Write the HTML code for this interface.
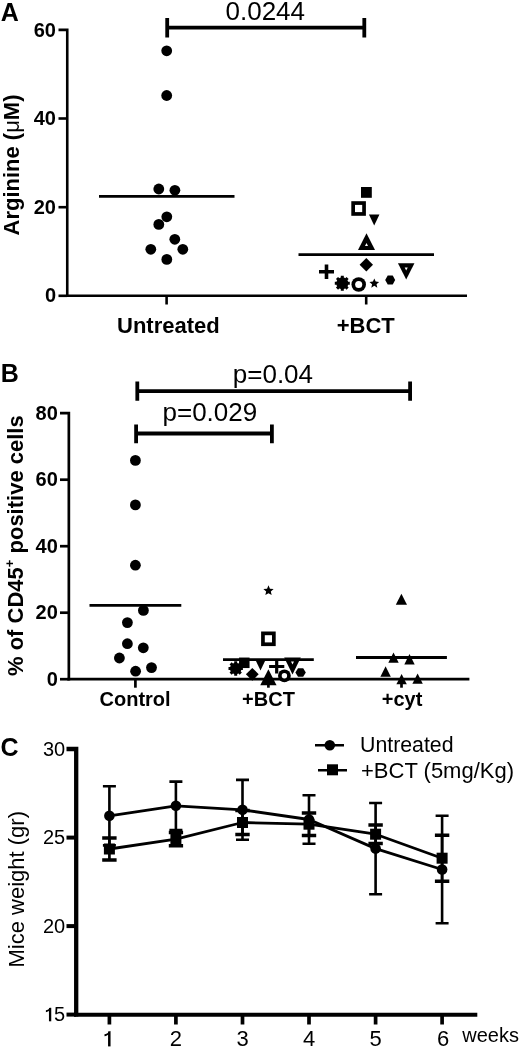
<!DOCTYPE html>
<html><head><meta charset="utf-8"><style>html,body{margin:0;padding:0;background:#fff;}svg{display:block;filter:grayscale(1);}</style></head>
<body><svg width="520" height="1048" viewBox="0 0 520 1048">
<rect width="520" height="1048" fill="#fff"/>
<text x="0.75" y="20.5" font-family="'Liberation Sans', sans-serif" font-weight="bold" font-size="25">A</text>
<path d="M58.5 29.9H67.25V297" fill="none" stroke="#000" stroke-width="2.6"/>
<path d="M58.5 118.5H67" stroke="#000" stroke-width="2.6"/>
<path d="M58.5 207.2H67" stroke="#000" stroke-width="2.6"/>
<path d="M58.5 295.8H67" stroke="#000" stroke-width="2.6"/>
<text x="56" y="36.5" text-anchor="end" font-family="'Liberation Sans', sans-serif" font-weight="bold" font-size="20">60</text>
<text x="56" y="125.1" text-anchor="end" font-family="'Liberation Sans', sans-serif" font-weight="bold" font-size="20">40</text>
<text x="56" y="213.8" text-anchor="end" font-family="'Liberation Sans', sans-serif" font-weight="bold" font-size="20">20</text>
<text x="56" y="302.4" text-anchor="end" font-family="'Liberation Sans', sans-serif" font-weight="bold" font-size="20">0</text>
<path d="M66 295.8H467" stroke="#000" stroke-width="2.6"/>
<path d="M166.6 295.8V304.5" stroke="#000" stroke-width="2.6"/>
<path d="M366.2 295.8V304.5" stroke="#000" stroke-width="2.6"/>
<text x="117" y="332.7" font-family="'Liberation Sans', sans-serif" font-weight="bold" font-size="22">Untreated</text>
<text x="336.7" y="332.6" font-family="'Liberation Sans', sans-serif" font-weight="bold" font-size="22">+BCT</text>
<text transform="translate(18.8,235.5) rotate(-90)" font-family="'Liberation Sans', sans-serif" font-weight="bold" font-size="22">Arginine (<tspan font-weight="normal">μ</tspan>M)</text>
<path d="M167.2 18V37.5M364.3 18V37.5M167.2 27.7H364.3" stroke="#000" stroke-width="3.8" fill="none"/>
<text x="225.5" y="19.5" font-family="'Liberation Sans', sans-serif" font-size="26">0.0244</text>
<path d="M99 196.4H234.5M298.5 254.6H434" stroke="#000" stroke-width="2.8"/>
<circle cx="166.7" cy="50.8" r="5.4"/>
<circle cx="166.7" cy="95.5" r="5.4"/>
<circle cx="158.8" cy="189" r="5.4"/>
<circle cx="174.9" cy="190.3" r="5.4"/>
<circle cx="166.8" cy="216.8" r="5.4"/>
<circle cx="158.8" cy="224.4" r="5.4"/>
<circle cx="174.8" cy="239.3" r="5.4"/>
<circle cx="150.8" cy="249.3" r="5.4"/>
<circle cx="182.8" cy="249.3" r="5.4"/>
<circle cx="166.8" cy="259.4" r="5.4"/>
<rect x="361.00" y="187.00" width="10.8" height="10.8"/>
<rect x="351.30" y="201.20" width="14.6" height="14.6"/><rect fill="#fff" x="355.00" y="204.90" width="7.20" height="7.20"/>
<path d="M368.95 214.5H379.45L374.2 225.50Z"/>
<path d="M366.5 233.2L375.00 250.00H358.00Z"/><path fill="#fff" d="M366.5 243.00L368.02 246.00H364.98Z"/>
<path d="M366.3 258.0L373.0 264.8L366.3 271.6L359.6 264.8Z"/>
<path d="M319.00 271.7H334.00M326.5 264.45V278.95" stroke="#000" stroke-width="3.6"/>
<circle cx="358.7" cy="284.5" r="7.25"/><circle fill="#fff" cx="358.7" cy="284.5" r="3.55"/>
<path d="M397.95 263.3H414.45L406.2 279.50Z"/><path fill="#fff" d="M404.67 267.50H407.73L406.2 270.50Z"/>
<path d="M385.20 280L387.70 275.50H392.70L395.20 280L392.70 284.50H387.70Z"/>
<path d="M374.30,278.40 L375.68,281.60 L379.15,281.92 L376.53,284.23 L377.30,287.63 L374.30,285.85 L371.30,287.63 L372.07,284.23 L369.45,281.92 L372.92,281.60Z"/>
<circle cx="342.3" cy="283.3" r="6.00"/><path d="M342.30 283.30L349.80 283.30M342.30 283.30L347.60 288.60M342.30 283.30L342.30 290.80M342.30 283.30L337.00 288.60M342.30 283.30L334.80 283.30M342.30 283.30L337.00 278.00M342.30 283.30L342.30 275.80M342.30 283.30L347.60 278.00" stroke="#000" stroke-width="3.0"/>
<text x="0.8" y="381.5" font-family="'Liberation Sans', sans-serif" font-weight="bold" font-size="25">B</text>
<path d="M60 413.2H68.85V680.5" fill="none" stroke="#000" stroke-width="2.7"/>
<path d="M60 679.2H68.5" stroke="#000" stroke-width="2.7"/>
<path d="M60 612.7H68.5" stroke="#000" stroke-width="2.7"/>
<path d="M60 546.2H68.5" stroke="#000" stroke-width="2.7"/>
<path d="M60 479.7H68.5" stroke="#000" stroke-width="2.7"/>
<text x="57.8" y="685.8" text-anchor="end" font-family="'Liberation Sans', sans-serif" font-weight="bold" font-size="20">0</text>
<text x="57.8" y="619.3" text-anchor="end" font-family="'Liberation Sans', sans-serif" font-weight="bold" font-size="20">20</text>
<text x="57.8" y="552.8" text-anchor="end" font-family="'Liberation Sans', sans-serif" font-weight="bold" font-size="20">40</text>
<text x="57.8" y="486.3" text-anchor="end" font-family="'Liberation Sans', sans-serif" font-weight="bold" font-size="20">60</text>
<text x="57.8" y="419.8" text-anchor="end" font-family="'Liberation Sans', sans-serif" font-weight="bold" font-size="20">80</text>
<path d="M67.5 679.2H469.4" stroke="#000" stroke-width="2.8"/>
<path d="M135.4 679.2V687.7" stroke="#000" stroke-width="2.7"/>
<path d="M268.4 679.2V687.7" stroke="#000" stroke-width="2.7"/>
<path d="M401.5 679.2V687.7" stroke="#000" stroke-width="2.7"/>
<text x="135.1" y="705.7" text-anchor="middle" font-family="'Liberation Sans', sans-serif" font-weight="bold" font-size="20">Control</text>
<text x="268.5" y="705.6" text-anchor="middle" font-family="'Liberation Sans', sans-serif" font-weight="bold" font-size="20">+BCT</text>
<text x="402.1" y="705.6" text-anchor="middle" font-family="'Liberation Sans', sans-serif" font-weight="bold" font-size="20">+cyt</text>
<text transform="translate(23.1,676) rotate(-90)" font-family="'Liberation Sans', sans-serif" font-weight="bold" font-size="22">% of CD45<tspan font-size="13" dy="-9">+</tspan><tspan dy="9"> positive cells</tspan></text>
<path d="M137.3 381.5V400.8M410.1 381.5V400.8M137.3 391.2H410.1M136.1 424.4V443.2M271.9 424.4V443.2M136.1 433.5H271.9" stroke="#000" stroke-width="3.8" fill="none"/>
<text x="232.8" y="382.5" font-family="'Liberation Sans', sans-serif" font-size="26">p=0.04</text>
<text x="162.5" y="421" font-family="'Liberation Sans', sans-serif" font-size="26">p=0.029</text>
<path d="M89.5 605.3H181.3M223 659.7H313.8M356 657.5H446.9" stroke="#000" stroke-width="2.8"/>
<circle cx="135.4" cy="460.4" r="5.4"/>
<circle cx="135.4" cy="504.9" r="5.4"/>
<circle cx="135.4" cy="565.2" r="5.4"/>
<circle cx="143.4" cy="610.4" r="5.4"/>
<circle cx="127.4" cy="622.6" r="5.4"/>
<circle cx="127.4" cy="643.7" r="5.4"/>
<circle cx="143.3" cy="647.8" r="5.4"/>
<circle cx="119.4" cy="658" r="5.4"/>
<circle cx="135.6" cy="671.2" r="5.4"/>
<circle cx="151.5" cy="667.6" r="5.4"/>
<path d="M268.50,585.30 L269.94,588.72 L273.64,589.03 L270.83,591.46 L271.67,595.07 L268.50,593.15 L265.33,595.07 L266.17,591.46 L263.36,589.03 L267.06,588.72Z"/>
<rect x="261.10" y="631.50" width="14.6" height="14.6"/><rect fill="#fff" x="264.80" y="635.20" width="7.20" height="7.20"/>
<rect x="239.05" y="657.55" width="10.5" height="10.5"/>
<circle cx="235.7" cy="668.5" r="5.76"/><path d="M235.70 668.50L242.90 668.50M235.70 668.50L240.79 673.59M235.70 668.50L235.70 675.70M235.70 668.50L230.61 673.59M235.70 668.50L228.50 668.50M235.70 668.50L230.61 663.41M235.70 668.50L235.70 661.30M235.70 668.50L240.79 663.41" stroke="#000" stroke-width="3.0"/>
<path d="M252.3 667.9L258.7 674.3L252.3 680.6999999999999L245.9 674.3Z"/>
<path d="M255.25 659.5H265.75L260.5 670.50Z"/>
<path d="M268.4 669.2L276.55 685.20H260.25Z"/>
<path d="M269.10 666.5H284.30M276.7 659.50V673.50" stroke="#000" stroke-width="3.2"/>
<circle cx="284.4" cy="675.8" r="6.40"/><circle fill="#fff" cx="284.4" cy="675.8" r="2.70"/>
<path d="M284.20 657.6H300.80L292.5 674.60Z"/><path fill="#fff" d="M291.04 661.60H293.96L292.5 664.60Z"/>
<path d="M295.40 672.5L298.00 668.25H303.20L305.80 672.5L303.20 676.75H298.00Z"/>
<path d="M401.4 593.7L407.00 604.80H395.80Z"/>
<path d="M393.5 652.5L398.70 662.80H388.30Z"/>
<path d="M409.5 654L414.70 664.50H404.30Z"/>
<path d="M385.6 666.2L390.80 676.80H380.40Z"/>
<path d="M401.6 674L406.80 684.30H396.40Z"/>
<path d="M417.6 673.5L422.80 683.80H412.40Z"/>
<text x="0.5" y="755.7" font-family="'Liberation Sans', sans-serif" font-weight="bold" font-size="25">C</text>
<path d="M66.5 749H76.2V1016.6" fill="none" stroke="#000" stroke-width="4.3"/>
<text x="65.2" y="755.6" text-anchor="end" font-family="'Liberation Sans', sans-serif" font-size="20">30</text>
<path d="M66.5 837.6H76" stroke="#000" stroke-width="4"/>
<text x="65.2" y="844.2" text-anchor="end" font-family="'Liberation Sans', sans-serif" font-size="20">25</text>
<path d="M66.5 926.1H76" stroke="#000" stroke-width="4"/>
<text x="65.2" y="932.7" text-anchor="end" font-family="'Liberation Sans', sans-serif" font-size="20">20</text>
<path d="M66.5 1014.6H76" stroke="#000" stroke-width="4"/>
<text x="65.2" y="1021.2" text-anchor="end" font-family="'Liberation Sans', sans-serif" font-size="20">5</text>
<path d="M50.10 1021.30V1007.90" stroke="#000" stroke-width="2.3"/><path d="M51.25 1007.30C49.60 1009.10 47.40 1010.10 45.90 1010.20V1012.20C47.90 1011.90 49.10 1010.80 50.10 1010.30Z"/>
<path d="M74 1014.8H477.3" stroke="#000" stroke-width="4"/>
<path d="M109.4 1014.8V1024.5" stroke="#000" stroke-width="3.7"/>
<path d="M109.30 1046.40V1031.40" stroke="#000" stroke-width="2.5"/><path d="M110.55 1030.80C108.80 1032.60 106.00 1034.20 104.50 1034.30V1036.30C106.50 1036.00 108.30 1034.90 109.30 1033.80Z"/>
<path d="M175.9 1014.8V1024.5" stroke="#000" stroke-width="3.7"/>
<text x="175.9" y="1046" text-anchor="middle" font-family="'Liberation Sans', sans-serif" font-size="22">2</text>
<path d="M242.5 1014.8V1024.5" stroke="#000" stroke-width="3.7"/>
<text x="242.5" y="1046" text-anchor="middle" font-family="'Liberation Sans', sans-serif" font-size="22">3</text>
<path d="M309.0 1014.8V1024.5" stroke="#000" stroke-width="3.7"/>
<text x="309.0" y="1046" text-anchor="middle" font-family="'Liberation Sans', sans-serif" font-size="22">4</text>
<path d="M375.6 1014.8V1024.5" stroke="#000" stroke-width="3.7"/>
<text x="375.6" y="1046" text-anchor="middle" font-family="'Liberation Sans', sans-serif" font-size="22">5</text>
<path d="M442.1 1014.8V1024.5" stroke="#000" stroke-width="3.7"/>
<text x="443.1" y="1046" text-anchor="middle" font-family="'Liberation Sans', sans-serif" font-size="22">6</text>
<text x="462.3" y="1042" font-family="'Liberation Sans', sans-serif" font-size="20">weeks</text>
<text transform="translate(23.8,967.5) rotate(-90)" font-family="'Liberation Sans', sans-serif" font-size="22">Mice weight (gr)</text>
<path d="M109.4 815.8 L175.9 805.8 L242.5 809.8 L309.0 819.5 L375.6 848.6 L442.1 869.5" fill="none" stroke="#000" stroke-width="2.8" stroke-linejoin="round"/>
<path d="M109.4 849.0 L175.9 839.1 L242.5 822.5 L309.0 824.2 L375.6 834.2 L442.1 858.2" fill="none" stroke="#000" stroke-width="2.8" stroke-linejoin="round"/>
<path d="M109.4 786.2V845.4M102.9 786.2H115.9M102.9 845.4H115.9M175.9 781.6V830.0M169.4 781.6H182.4M169.4 830.0H182.4M242.5 779.9V839.7M236.0 779.9H249.0M236.0 839.7H249.0M309.0 795.2V843.8M302.5 795.2H315.5M302.5 843.8H315.5M375.6 803.0V894.2M369.1 803.0H382.1M369.1 894.2H382.1M442.1 815.8V923.2M435.6 815.8H448.6M435.6 923.2H448.6" stroke="#000" stroke-width="2.6" fill="none"/>
<path d="M109.4 838.0V860.0M175.9 832.4V845.8M242.5 810.5V834.5M309.0 812.9V835.6M375.6 825.0V843.5M442.1 835.2V881.2" stroke="#000" stroke-width="2.7" fill="none"/>
<path d="M102.2 838.0H116.6M102.2 860.0H116.6M168.8 832.4H183.1M168.8 845.8H183.1M235.3 810.5H249.7M235.3 834.5H249.7M301.8 812.9H316.2M301.8 835.6H316.2M368.4 825.0H382.8M368.4 843.5H382.8M434.9 835.2H449.3M434.9 881.2H449.3" stroke="#000" stroke-width="3.5" fill="none"/>
<rect x="103.90" y="843.50" width="11" height="11"/>
<rect x="170.40" y="833.60" width="11" height="11"/>
<rect x="237.00" y="817.00" width="11" height="11"/>
<rect x="303.50" y="818.70" width="11" height="11"/>
<rect x="370.10" y="828.70" width="11" height="11"/>
<rect x="436.60" y="852.70" width="11" height="11"/>
<circle cx="109.4" cy="815.8" r="5.3"/>
<circle cx="175.9" cy="805.8" r="5.3"/>
<circle cx="242.5" cy="809.8" r="5.3"/>
<circle cx="309.0" cy="819.5" r="5.3"/>
<circle cx="375.6" cy="848.6" r="5.3"/>
<circle cx="442.1" cy="869.5" r="5.3"/>
<path d="M315 745.2H344M318 770.2H347" stroke="#000" stroke-width="2.6"/>
<circle cx="329.8" cy="745.2" r="5.3"/>
<rect x="327.00" y="764.30" width="11" height="11"/>
<text x="360" y="752.4" font-family="'Liberation Sans', sans-serif" font-size="21.3">Untreated</text>
<text x="361" y="777.5" font-family="'Liberation Sans', sans-serif" font-size="22">+BCT (5mg/Kg)</text>
</svg></body></html>
